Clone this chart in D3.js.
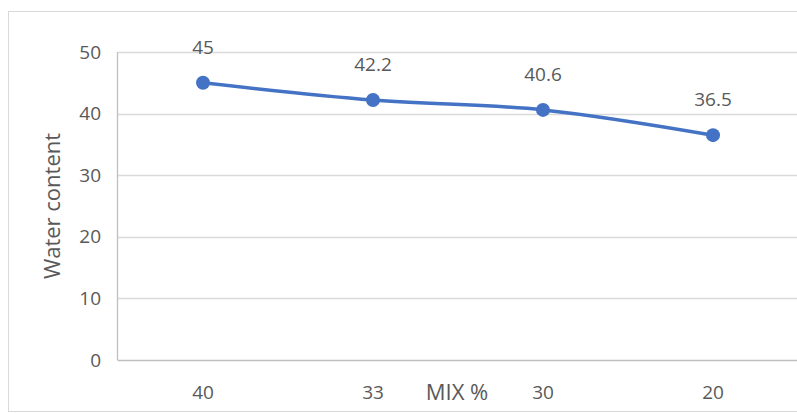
<!DOCTYPE html>
<html>
<head>
<meta charset="utf-8">
<script src="https://cdn.jsdelivr.net/npm/d3@7"></script>
<style>
  html, body { margin: 0; padding: 0; background: #fff; }
  svg { display: block; }
  text { font-family: "Open Sans", "Noto Sans", sans-serif; fill: #595959; }
</style>
</head>
<body>
<svg id="chart" width="797" height="413"></svg>
<script>
// Water content by mix percentage
const categories = ["40", "33", "30", "20"];
const waterContent = [45, 42.2, 40.6, 36.5];
const yTicks = [0, 10, 20, 30, 40, 50];
const xTitle = "MIX %";
const yTitle = "Water content";

const svg = d3.select("#chart");
const W = 797, H = 413;
const plot = { left: 118, right: 798, top: 52, bottom: 360 };

// Outer chart border
svg.append("rect")
  .attr("x", 8.5).attr("y", 11.5)
  .attr("width", W + 10).attr("height", H - 13)
  .attr("fill", "#fff").attr("stroke", "#d9d9d9").attr("stroke-width", 1);

const x = d3.scaleBand().domain(categories).range([plot.left, plot.right]);
const y = d3.scaleLinear().domain([0, 50]).range([plot.bottom, plot.top]);

// Horizontal gridlines
svg.append("g")
  .selectAll("line").data(yTicks).join("line")
  .attr("x1", plot.left).attr("x2", W)
  .attr("y1", d => Math.round(y(d)) + 0.5).attr("y2", d => Math.round(y(d)) + 0.5)
  .attr("stroke", d => d === 0 ? "#bfbfbf" : "#d9d9d9").attr("stroke-width", 1.3);

// Vertical axis line
svg.append("line")
  .attr("x1", plot.left - 0.5).attr("x2", plot.left - 0.5)
  .attr("y1", y(50)).attr("y2", y(0) + 0.5)
  .attr("stroke", "#bfbfbf").attr("stroke-width", 1.3);

// Y tick labels
svg.append("g")
  .selectAll("text").data(yTicks).join("text")
  .attr("x", 101).attr("y", d => y(d))
  .attr("dy", "0.35em")
  .attr("text-anchor", "end")
  .style("font-size", "19px")
  .text(d => d);

// X tick labels
svg.append("g")
  .selectAll("text").data(categories).join("text")
  .attr("x", d => x(d) + x.bandwidth() / 2)
  .attr("y", 399)
  .attr("text-anchor", "middle")
  .style("font-size", "19px")
  .text(d => d);

// Axis titles
svg.append("text")
  .attr("x", 457).attr("y", 400)
  .attr("text-anchor", "middle")
  .style("font-size", "22px")
  .text(xTitle);

svg.append("text")
  .attr("transform", "translate(60,206) rotate(-90)")
  .attr("text-anchor", "middle")
  .style("font-size", "22px")
  .text(yTitle);

// Series line
const pts = categories.map((c, i) => [x(c) + x.bandwidth() / 2, y(waterContent[i])]);
svg.append("path")
  .attr("d", d3.line().curve(d3.curveCatmullRom.alpha(0.5))(pts))
  .attr("fill", "none")
  .attr("stroke", "#4472C4")
  .attr("stroke-width", 3.5)
  .attr("stroke-linecap", "round");

// Markers
svg.append("g")
  .selectAll("circle").data(pts).join("circle")
  .attr("cx", d => d[0]).attr("cy", d => d[1])
  .attr("r", 7)
  .attr("fill", "#4472C4");

// Data labels
svg.append("g")
  .selectAll("text").data(categories).join("text")
  .attr("x", (c) => x(c) + x.bandwidth() / 2)
  .attr("y", (c, i) => y(waterContent[i]) - 29)
  .attr("text-anchor", "middle")
  .style("font-size", "19px")
  .text((c, i) => waterContent[i]);
</script>
</body>
</html>
